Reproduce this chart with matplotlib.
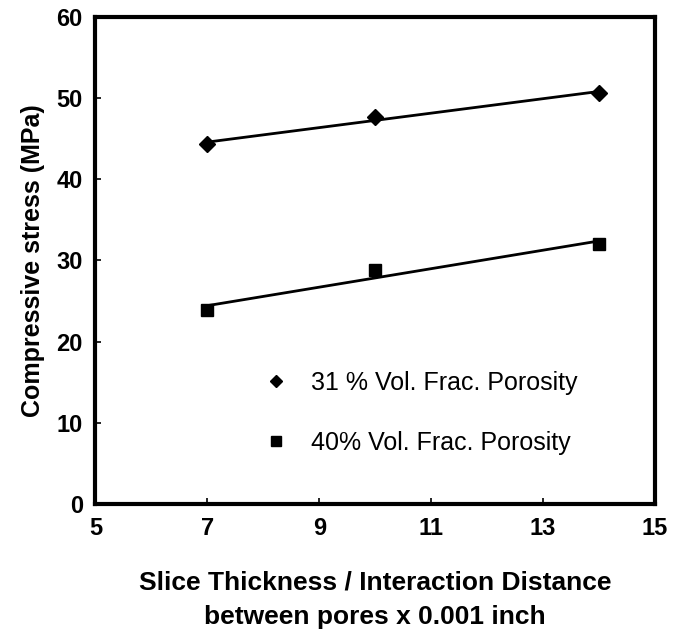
import numpy as np
import matplotlib
matplotlib.use("Agg")
import matplotlib.pyplot as plt

plt.rcParams['font.family'] = ['Liberation Sans', 'DejaVu Sans']

x_vals = [7, 10, 14]
porosity31 = [44.3, 47.7, 50.6]
porosity40 = [23.9, 28.8, 32.0]
labels = ["31 % Vol. Frac. Porosity", "40% Vol. Frac. Porosity"]
xticks = [5, 7, 9, 11, 13, 15]
yticks = [0, 10, 20, 30, 40, 50, 60]

fig = plt.figure(figsize=(6.81, 6.40), dpi=100)
ax = fig.add_axes([0.140, 0.212, 0.822, 0.762])

xs = np.array(x_vals, dtype=float)
for ys, mk, ms, lab in [(porosity31, 'D', 8, labels[0]), (porosity40, 's', 9, labels[1])]:
    p = np.polyfit(xs, ys, 1)
    xl = np.array([xs.min(), xs.max()])
    ax.plot(xl, np.polyval(p, xl), color='black', lw=2.0, zorder=2)
    ax.plot(xs, ys, linestyle='none', marker=mk, ms=ms, color='black', label=lab, zorder=3)

ax.set_xlim(5, 15)
ax.set_ylim(0, 60)
ax.set_xticks(xticks)
ax.set_yticks(yticks)
ax.tick_params(direction='in', length=4, width=1.2, labelsize=17, pad=9)
for t in ax.get_xticklabels() + ax.get_yticklabels():
    t.set_fontweight('bold')
for s in ax.spines.values():
    s.set_linewidth(3)

ax.set_ylabel("Compressive stress (MPa)", fontsize=18, fontweight='bold', labelpad=8)
ax.set_xlabel("Slice Thickness / Interaction Distance\nbetween pores x 0.001 inch",
              fontsize=19, fontweight='bold', labelpad=22, linespacing=1.55)

leg = ax.legend(loc='lower left', bbox_to_anchor=(0.26, 0.055), frameon=False,
                fontsize=18, handletextpad=0.9, labelspacing=1.45, markerscale=0.8,
                handlelength=1.0)

fig.savefig("out.png", dpi=100)
